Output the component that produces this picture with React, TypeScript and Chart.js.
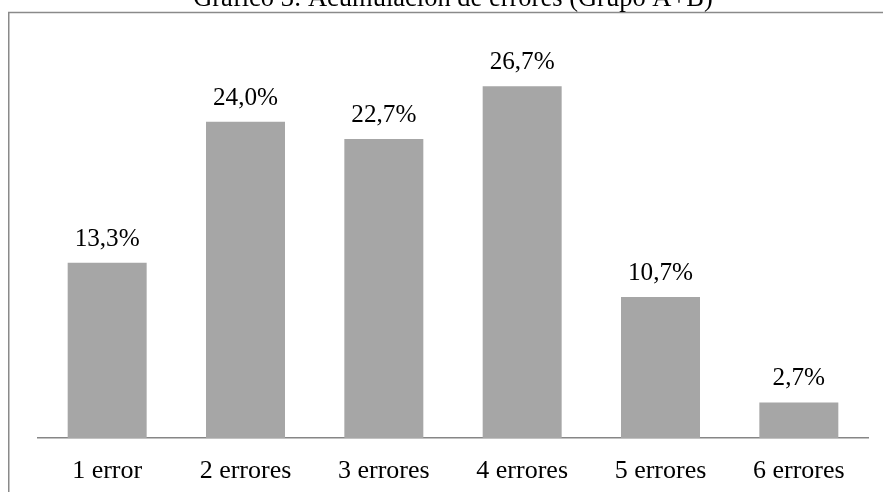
import React, { useEffect, useRef } from "react";
import { Chart, registerables } from "chart.js";

Chart.register(...registerables);

const chartTitle = "Gráfico 3: Acumulación de errores (Grupo A+B)";
const categories = ["1 error", "2 errores", "3 errores", "4 errores", "5 errores", "6 errores"];
const percentages = [13.3, 24.0, 22.7, 26.7, 10.7, 2.7];
const yMax = 30;

const FONT = "'Liberation Serif', 'Times New Roman', serif";

const valueLabels = {
  id: "valueLabels",
  afterDatasetsDraw(chart: any) {
    const ctx = chart.ctx;
    const meta = chart.getDatasetMeta(0);
    ctx.save();
    ctx.fillStyle = "#000000";
    ctx.font = `25.2px ${FONT}`;
    ctx.textAlign = "center";
    ctx.textBaseline = "alphabetic";
    meta.data.forEach((bar: any, i: number) => {
      const v = percentages[i];
      const txt = v.toFixed(1).replace(".", ",") + "%";
      ctx.fillText(txt, bar.x, bar.y - 17);
    });
    ctx.restore();
  },
};

const frameBorder = {
  id: "frameBorder",
  beforeDraw(chart: any) {
    const ctx = chart.ctx;
    ctx.save();
    ctx.strokeStyle = "#8a8a8a";
    ctx.lineWidth = 1.5;
    ctx.beginPath();
    ctx.moveTo(8.75, chart.height + 5);
    ctx.lineTo(8.75, 29.5);
    ctx.lineTo(chart.width + 5, 29.5);
    ctx.stroke();
    ctx.restore();
  },
};

export default function App() {
  const canvasRef = useRef<HTMLCanvasElement | null>(null);

  useEffect(() => {
    if (!canvasRef.current) return;
    const chart = new Chart(canvasRef.current, {
      type: "bar",
      data: {
        labels: categories,
        datasets: [
          {
            data: percentages,
            backgroundColor: "#a6a6a6",
            borderWidth: 0,
            barPercentage: 0.571,
            categoryPercentage: 1,
          },
        ],
      },
      options: {
        animation: false,
        responsive: true,
        maintainAspectRatio: false,
        layout: { padding: { left: 38, right: 15, top: 0, bottom: 6 } },
        plugins: {
          legend: { display: false },
          tooltip: { enabled: false },
          title: {
            display: true,
            text: chartTitle,
            color: "#000000",
            font: { family: FONT, size: 26.5, weight: "normal" },
            padding: { top: 0, bottom: 28 },
          },
        },
        scales: {
          x: {
            grid: { display: false, drawTicks: false },
            border: { display: true, color: "#868686", width: 1.5 },
            ticks: {
              color: "#000000",
              font: { family: FONT, size: 26 },
              padding: 18,
              maxRotation: 0,
              autoSkip: false,
            },
            afterFit(scale: any) {
              scale.height = 48;
            },
          },
          y: {
            display: false,
            min: 0,
            max: yMax,
          },
        },
      },
      plugins: [frameBorder, valueLabels],
    });
    return () => chart.destroy();
  }, []);

  return (
    <div style={{ position: "fixed", left: 0, top: -17, width: 883, height: 509 }}>
      <canvas ref={canvasRef} />
    </div>
  );
}
